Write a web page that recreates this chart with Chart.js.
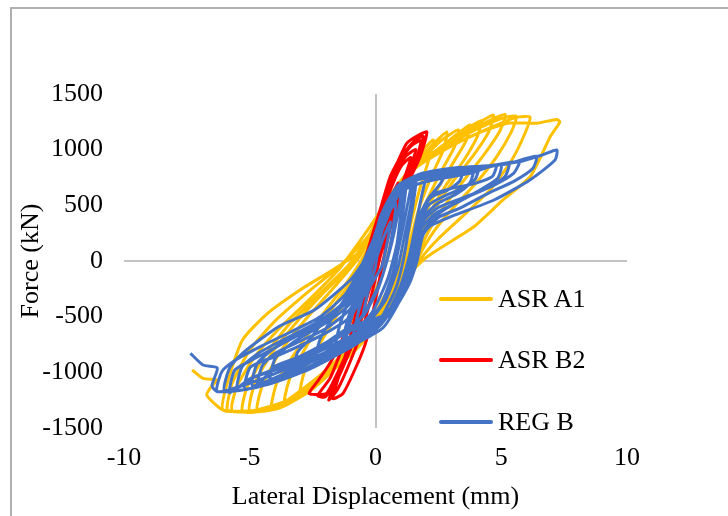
<!DOCTYPE html>
<html>
<head>
<meta charset="utf-8">
<script src="https://cdn.jsdelivr.net/npm/chart.js@4.4.1/dist/chart.umd.min.js"></script>
<style>
  body { margin: 0; background: #fff; }
  #wrap { position: relative; width: 728px; height: 516px; overflow: hidden; }
  #frame { position: absolute; left: 10px; top: 7px; width: 760px; height: 560px;
           border-left: 2px solid #b0b0b0; border-top: 2px solid #b0b0b0; }
  canvas { position: absolute; left: 0; top: 0; }
  .leg { position: absolute; left: 439px; font: 26px "Liberation Serif", "Times New Roman", serif; color: #000; }
  .leg i { position: absolute; left: 0; width: 54px; height: 4px; border-radius: 2px; }
  .leg span { position: absolute; left: 59px; white-space: nowrap; line-height: 30px; top: -15px; }
</style>
</head>
<body>
<div id="wrap">
  <div id="frame"></div>
  <canvas id="hystChart" width="728" height="516"></canvas>
  <div id="legend"></div>
</div>
<script>
// series names + colours
const seriesNames = ["ASR A1", "ASR B2", "REG B"];
const seriesColors = ["#FFC000", "#FF0000", "#4472C4"];

// axis ticks
const xTicks = [-10, -5, 0, 5, 10];
const yTicks = [-1500, -1000, -500, 0, 500, 1000, 1500];

// ASR A1 : lateral displacement (mm) / force (kN), one line per cycle
const a1Disp = [
  0, 0.5, 0.9, 1.2, 1.0, 0.7, 0.3, -0.4, -1.0, -0.8, -0.4, 0,
  0.3, 0.9, 1.5, 1.9, 2.3, 2.15, 1.8, 1.45, 1.15, 0.7, -0.1, -1.1, -2.1, -3.0, -2.8, -2.1, -1.3, -0.5,
  0.4, 1.0, 1.6, 2.2, 2.84, 2.7, 2.2, 1.7, 1.35, 1.0, 0.2, -0.9, -2.2, -3.6, -3.4, -2.7, -1.8, -0.8, 0,
  0.5, 1.1, 1.8, 2.6, 3.3, 3.15, 2.6, 2.0, 1.6, 1.3, 0.8, 0.1, -0.8, -2.3, -3.3, -4.14, -3.9, -3.0, -2.0, -1.0, -0.2,
  0.5, 1.2, 1.9, 2.8, 3.76, 3.6, 3.0, 2.4, 1.9, 1.5, 1.0, 0, -1.2, -2.7, -3.8, -4.7, -4.5, -3.8, -2.8, -1.7, -0.6,
  0.5, 1.2, 2.0, 3.0, 4.2, 4.05, 3.5, 2.8, 2.2, 1.7, 1.4, 0.9, 0.1, -1.0, -2.5, -3.8, -5.0, -4.8, -4.1, -3.1, -2.0, -0.8, -0.1,
  0.6, 1.3, 2.1, 3.3, 4.68, 4.5, 3.9, 3.1, 2.4, 1.9, 1.5, 1.0, 0.2, -0.5, -1.8, -3.2, -4.3, -5.29, -5.1, -4.4, -3.4, -2.2, -1.0, -0.2,
  0.6, 1.3, 2.2, 3.6, 5.14, 4.95, 4.3, 3.5, 2.6, 2.0, 1.6, 1.1, 0.4, -0.3, -1.5, -3.0, -4.5, -5.7, -5.5, -4.8, -3.8, -2.6, -1.4, -0.4,
  0.6, 1.4, 2.4, 3.8, 5.0, 5.6, 5.4, 4.8, 4.0, 3.1, 2.3, 1.7, 1.2, 0.3, -0.8, -2.3, -3.9, -5.5, -5.9, -5.7, -5.0, -4.0, -2.8, -1.5, -0.3,
  0.5, 1.3, 2.3, 3.6, 4.9, 5.6, 6.14, 5.95, 5.4, 4.6, 3.6, 2.5, 1.8, 1.1, 0.2, -0.8, -2.2, -3.6, -4.9, -6.07, -5.9, -5.29, -4.29, -3.0, -1.71, -0.21,
  0.6, 1.5, 2.6, 4.0, 5.3, 6.4, 7.2, 7.33, 6.94, 6.6, 6.14, 5.07, 4.43, 3.9, 2.04, 1.3, 0.43, -0.14, -1.0, -2.43, -4.14, -5.3, -6.07, -6.71, -6.5, -6.29, -6.86, -7.29
];
const a1Force = [
  0, 380, 640, 760, 560, 250, -100, -450, -700, -480, -200, 100,
  350, 650, 880, 1000, 1087, 930, 680, 380, 80, -230, -560, -820, -1030, -1200, -980, -700, -400, -100,
  420, 700, 880, 1030, 1159, 1000, 750, 450, 150, -180, -520, -800, -1070, -1270, -1050, -750, -450, -130, 200,
  480, 720, 900, 1080, 1177, 1030, 800, 520, 250, 0, -250, -500, -780, -1090, -1240, -1338, -1080, -760, -450, -150, 150,
  500, 760, 900, 1060, 1221, 1080, 850, 620, 380, 100, -180, -570, -860, -1140, -1300, -1345, -1120, -820, -530, -250, 50,
  520, 770, 910, 1090, 1260, 1120, 900, 680, 450, 200, -20, -280, -540, -830, -1150, -1320, -1350, -1100, -820, -540, -270, 0, 250,
  540, 780, 920, 1120, 1311, 1160, 950, 720, 480, 250, 0, -250, -520, -700, -980, -1220, -1338, -1353, -1130, -850, -560, -290, -20, 250,
  560, 800, 950, 1150, 1317, 1170, 950, 720, 450, 220, 0, -250, -450, -640, -930, -1200, -1340, -1345, -1120, -860, -600, -340, -60, 250,
  580, 810, 970, 1160, 1280, 1300, 1160, 930, 700, 480, 260, 30, -230, -520, -800, -1100, -1320, -1350, -1338, -1100, -800, -540, -300, -60, 220,
  560, 800, 960, 1100, 1230, 1290, 1293, 1150, 900, 650, 430, 200, 20, -250, -550, -790, -1060, -1260, -1345, -1338, -1100, -710, -470, -260, -81, 159,
  600, 820, 980, 1140, 1240, 1237, 1272, 1248, 1114, 950, 754, 548, 413, 305, 36, -120, -290, -530, -770, -1069, -1338, -1353, -1338, -1204, -1120, -1069, -1054, -979
];

// ASR B2
const b2Disp = [
  0, 0.3, 0.5, 0.3, 0, -0.3, -0.6, -0.4, -0.1,
  0.2, 0.6, 0.9, 0.6, 0.25, -0.1, -0.5, -1.0, -0.7, -0.3, 0,
  0.4, 0.9, 1.2, 1.4, 1.05, 0.7, 0.35, 0.05, -0.2, -0.6, -1.0, -1.4, -1.1, -0.6, -0.2, 0.1,
  0.5, 1.0, 1.35, 1.6, 1.2, 0.85, 0.5, 0.2, -0.1, -0.5, -1.0, -1.5, -1.86, -1.5, -1.0, -0.5, -0.1, 0.2,
  0.6, 1.2, 1.6, 1.8, 1.4, 1.0, 0.7, 0.35, 0, -0.3, -0.7, -1.2, -1.7, -1.29, -0.71, -0.36, 0, 0.3,
  0.7, 1.2, 1.6, 1.9, 1.55, 1.1, 0.75, 0.4, 0.1, -0.25, -0.7, -1.2, -1.8, -2.3, -2.0, -1.6, -1.1, -0.7, -0.3, 0.1,
  0.6, 1.1, 1.5, 1.77, 2.04, 1.7, 1.24, 0.9, 0.58, 0.18, -0.22, -0.5, -0.9, -1.4, -1.9, -2.3, -2.64, -2.3, -1.93, -1.5, -1.0, -0.6
];
const b2Force = [
  0, 250, 400, 200, -50, -250, -450, -250, 0,
  200, 500, 700, 560, 300, 50, -350, -800, -550, -250, 0,
  300, 600, 780, 930, 860, 700, 480, 250, 50, -350, -700, -1000, -850, -550, -200, 50,
  300, 600, 820, 1000, 940, 800, 620, 400, 150, -250, -700, -1050, -1249, -1150, -900, -600, -250, 50,
  350, 700, 900, 1080, 1030, 900, 760, 520, 250, 0, -400, -850, -1234, -1189, -919, -710, -350, 0,
  400, 700, 900, 1120, 1080, 960, 800, 580, 350, 80, -300, -700, -1050, -1210, -1220, -1100, -850, -600, -300, 0,
  300, 600, 800, 934, 1158, 1130, 1057, 900, 754, 458, 162, -50, -400, -750, -950, -1080, -1189, -1200, -1185, -1000, -750, -500
];

// REG B
const regDisp = [
  0, 0.3, 0.6, 0.45, 0.25, -0.2, -0.6, -0.45, -0.2,
  0.1, 0.4, 0.8, 0.7, 0.5, 0.1, -0.5, -0.3, 0,
  0.2, 0.6, 1.0, 0.85, 0.6, 0.2, -0.4, -1.1, -0.9, -0.5, -0.1,
  0.3, 0.7, 1.1, 1.0, 0.85, 0.5, -0.1, -0.8, -0.6, -0.3, 0.1,
  0.35, 0.75, 1.2, 1.1, 0.95, 0.75, 0.3, -0.3, -0.9, -0.7, -0.35, 0,
  0.3, 0.8, 1.4, 1.25, 1.0, 0.7, 0.2, -0.7, -1.6, -1.4, -0.9, -0.4,
  0.5, 1.0, 1.5, 1.4, 1.15, 0.9, 0.4, -0.4, -1.3, -1.1, -0.6, -0.2,
  0.5, 0.95, 1.6, 1.5, 1.3, 1.1, 0.8, 0.2, -0.5, -1.2, -1.0, -0.6, -0.25,
  0.2, 0.8, 1.4, 2.0, 1.85, 1.6, 1.35, 1.0, 0.4, -0.6, -1.5, -2.4, -2.2, -1.6, -0.9, -0.3,
  0.3, 0.9, 1.6, 2.2, 2.8, 2.6, 2.1, 1.7, 1.5, 1.2, 0.6, -0.4, -1.0, -2.0, -3.0, -3.3, -3.1, -2.6, -2.0, -1.0, -0.3,
  0.4, 1.0, 1.6, 2.4, 3.0, 3.5, 3.35, 2.9, 2.2, 1.8, 1.55, 1.25, 0.6, -1.0, -2.0, -3.0, -3.7, -4.2, -4.0, -3.5, -3.0, -2.0, -1.0, -0.4,
  0.3, 0.9, 1.5, 2.5, 3.3, 4.1, 3.95, 3.4, 2.7, 2.1, 1.75, 1.55, 1.3, 0.7, -1.0, -2.0, -3.0, -4.0, -4.7, -4.5, -4.0, -3.0, -2.0, -1.0, -0.4,
  0.3, 1.0, 1.7, 2.9, 3.9, 3.75, 3.2, 2.5, 2.0, 1.7, 1.5, 1.25, 0.5, -0.6, -1.7, -2.8, -3.8, -4.9, -4.7, -4.0, -3.0, -2.0, -1.0, -0.3,
  0.2, 0.8, 1.5, 2.6, 3.8, 4.8, 4.65, 4.0, 3.0, 2.2, 1.85, 1.6, 1.4, 0.8, -0.1, -1.0, -2.0, -3.0, -4.0, -5.2, -5.0, -4.5, -4.0, -3.0, -2.0, -1.0, -0.3,
  0.3, 1.0, 1.8, 2.8, 4.0, 5.3, 5.15, 4.5, 3.5, 2.5, 1.9, 1.65, 1.45, 1.0, 0.2, -1.0, -2.0, -3.0, -4.0, -5.0, -5.8, -5.6, -5.0, -4.0, -3.0, -2.0, -1.0, -0.4,
  0.25, 0.9, 1.7, 3.0, 4.4, 5.0, 4.85, 4.1, 3.2, 2.4, 1.85, 1.6, 1.35, 0.8, 0, -1.2, -2.4, -3.6, -4.8, -5.5, -5.3, -4.6, -3.6, -2.4, -1.4, -0.6,
  0.3, 0.9, 1.9, 3.3, 4.7, 5.71, 5.5, 4.7, 3.6, 2.6, 2.0, 1.7, 1.5, 1.1, 0.3, -1.0, -2.6, -4.3, -6.0, -5.8, -5.29, -3.86, -2.43, -1.0, -0.43,
  0.29, 0.86, 1.43, 2.6, 4.0, 5.2, 6.4, 6.25, 5.5, 4.5, 3.4, 2.5, 1.9, 1.65, 1.35, 0.7, -0.3, -1.3, -2.5, -3.7, -4.9, -6.3, -6.1, -5.5, -4.5, -3.4, -2.2, -1.2, -0.6,
  0.2, 0.8, 1.43, 1.9, 3.08, 4.14, 5.0, 5.71, 6.6, 7.21, 7.14, 6.14, 4.71, 3.0, 2.14, 1.71, 1.57, 1.29, 0.71, 0.14, -1.0, -2.43, -4.14, -5.29, -6.29, -6.5, -6.29, -6.86, -7.36
];
const regForce = [
  0, 200, 350, 150, -50, -220, -350, -150, 50,
  150, 380, 520, 300, 50, -250, -500, -280, -50,
  300, 500, 600, 380, 120, -180, -450, -650, -420, -120, 150,
  350, 560, 650, 420, 150, -150, -450, -620, -380, -100, 200,
  320, 540, 680, 450, 180, -80, -380, -560, -700, -480, -200, 80,
  380, 600, 700, 480, 200, -100, -400, -640, -800, -560, -260, 30,
  450, 640, 720, 500, 220, -50, -350, -580, -760, -520, -220, 100,
  420, 600, 740, 520, 260, 0, -250, -520, -680, -760, -540, -280, 0,
  400, 640, 720, 780, 600, 330, 50, -220, -500, -720, -840, -930, -700, -470, -230, 60,
  430, 660, 750, 790, 825, 700, 560, 380, 150, -100, -420, -620, -710, -846, -959, -1030, -820, -700, -522, -350, -60,
  450, 650, 740, 800, 830, 840, 720, 640, 570, 420, 150, -120, -450, -680, -820, -930, -1020, -1085, -880, -770, -690, -560, -380, -100,
  420, 640, 730, 810, 835, 847, 730, 650, 580, 500, 330, 80, -150, -450, -590, -738, -857, -946, -1120, -940, -830, -720, -610, -430, -150,
  440, 670, 760, 820, 845, 700, 600, 520, 420, 230, 0, -200, -480, -650, -800, -930, -1030, -1120, -920, -780, -660, -540, -330, 0,
  380, 600, 680, 740, 790, 865, 760, 700, 650, 590, 420, 150, -100, -400, -600, -740, -873, -985, -1066, -1155, -960, -900, -860, -760, -650, -500, -200,
  400, 620, 700, 770, 820, 878, 760, 660, 570, 480, 360, 120, -80, -330, -520, -620, -765, -882, -970, -1058, -1185, -980, -900, -780, -650, -520, -330, -60,
  420, 660, 730, 790, 840, 860, 740, 630, 520, 430, 300, 60, -160, -380, -560, -700, -830, -950, -1040, -1140, -950, -820, -700, -560, -400, -150,
  450, 680, 790, 835, 860, 892, 790, 680, 570, 440, 300, 120, -80, -300, -600, -770, -970, -1110, -1170, -960, -829, -590, -440, -171, 9,
  368, 638, 728, 800, 840, 870, 940, 830, 715, 610, 480, 390, 240, 0, -200, -450, -640, -750, -870, -985, -1090, -1174, -990, -880, -760, -640, -500, -300, -60,
  330, 600, 728, 787, 835, 847, 870, 892, 950, 997, 907, 728, 548, 398, 308, 189, 9, -171, -410, -590, -770, -950, -1099, -1159, -1174, -1120, -961, -934, -829
];

const toPoints = (xs, ys) => xs.map((x, i) => ({x: x, y: ys[i]}));
const allPoints = [toPoints(a1Disp, a1Force), toPoints(b2Disp, b2Force), toPoints(regDisp, regForce)];

const serif = "'Liberation Serif', 'Times New Roman', serif";
const zeroOnly = (ctx) => (ctx.tick && ctx.tick.value === 0) ? "#c3c3c3" : "rgba(0,0,0,0)";

new Chart(document.getElementById("hystChart"), {
    type: "scatter",
    data: {
        datasets: seriesNames.map((name, i) => ({
            label: name,
            data: allPoints[i],
            showLine: true,
            borderColor: seriesColors[i],
            backgroundColor: seriesColors[i],
            borderWidth: 3,
            pointRadius: 0,
            tension: 0.2,
            order: 3 - i,   // REG B on top, like the original
        }))
    },
    options: {
        responsive: false,
        animation: false,
        events: [],
        layout: {padding: {top: 94, right: 101, bottom: 0, left: 0}},
        plugins: {legend: {display: false}, tooltip: {enabled: false}},
        scales: {
            x: {
                type: "linear",
                min: -10,
                max: 10,
                afterBuildTicks: (s) => { s.ticks = xTicks.map(v => ({value: v})); },
                afterFit: (s) => { s.height = 88; },
                ticks: {
                    padding: 15,
                    color: "#000",
                    font: {family: serif, size: 26},
                    callback: (v) => String(v),
                },
                grid: {color: zeroOnly, lineWidth: 2, drawTicks: false},
                border: {display: false},
                title: {
                    display: true,
                    text: "Lateral Displacement (mm)",
                    color: "#000",
                    font: {family: serif, size: 26},
                    padding: {top: 0, bottom: 3},
                },
            },
            y: {
                type: "linear",
                min: -1500,
                max: 1500,
                afterBuildTicks: (s) => { s.ticks = yTicks.map(v => ({value: v})); },
                afterFit: (s) => { s.width = 124; },
                ticks: {
                    padding: 21,
                    color: "#000",
                    font: {family: serif, size: 26},
                    callback: (v) => String(v),
                },
                grid: {color: zeroOnly, lineWidth: 2, drawTicks: false},
                border: {display: false},
                title: {
                    display: true,
                    text: "Force (kN)",
                    color: "#000",
                    font: {family: serif, size: 26},
                    padding: {top: 16, bottom: 0},
                },
            }
        }
    }
});

// legend sits inside the plot, right side
const legendTops = [299, 360, 422];
const legend = document.getElementById("legend");
seriesNames.forEach((name, i) => {
    const row = document.createElement("div");
    row.className = "leg";
    row.style.top = legendTops[i] + "px";
    row.innerHTML = '<i style="top:-2px;background:' + seriesColors[i] + '"></i><span>' + name + '</span>';
    legend.appendChild(row);
});
</script>
</body>
</html>
